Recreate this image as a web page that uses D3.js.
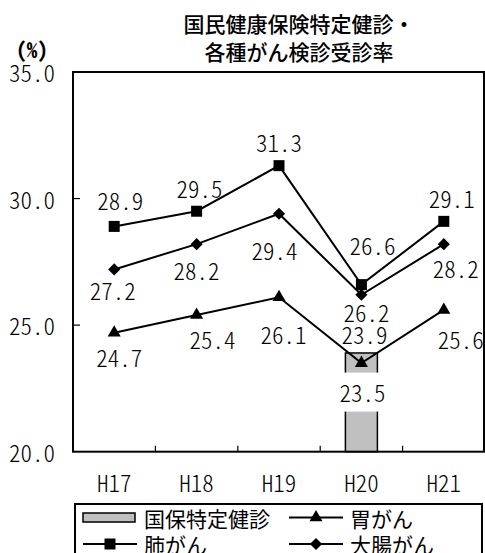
<!DOCTYPE html>
<html><head><meta charset="utf-8">
<script src="https://cdn.jsdelivr.net/npm/d3@7"></script>
<style>
body{margin:0;background:#fff}
.jp{font-family:"Noto Sans CJK JP",sans-serif}
.num{font-family:"Noto Sans CJK JP",sans-serif;font-feature-settings:"hwid" 1;font-weight:300}
</style></head><body><svg id="chart" width="485" height="553"></svg>
<script>
// 年度と受診率 (%)
const categories = ["H17", "H18", "H19", "H20", "H21"];
const kokuhoValues = [null, null, null, 23.9, null];   // 国保特定健診
const haiValues = [28.9, 29.5, 31.3, 26.6, 29.1];      // 肺がん
const daichoValues = [27.2, 28.2, 29.4, 26.2, 28.2];   // 大腸がん
const iValues = [24.7, 25.4, 26.1, 23.5, 25.6];        // 胃がん
const yTicks = [20, 25, 30, 35];
const titleLines = ["国民健康保険特定健診・", "各種がん検診受診率"];

// ラベル位置の調整 (マーカー中心からのずれ)
const haiShift = [[6, -26], [3, -23.5], [0, -24], [11, -40], [8, -23.5]];
const daichoShift = [[-1.5, 21], [0, 25.5], [-4.5, 36.5], [5, 17], [12, 23.5]];
const iShift = [[5, 24], [16, 23.5], [4.5, 37], [1, 29], [17, 29.5]];
const kokuhoShift = [[0, 0], [0, 0], [0, 0], [3, -18.5], [0, 0]];
const iLabelBox = [false, false, false, true, false];

const svg = d3.select("#chart");
const plot = {left: 73, right: 484, top: 72, bottom: 451.7};

const x = d3.scaleBand().domain(categories).range([plot.left, plot.right + 1]);
const y = d3.scaleLinear().domain([20, 35]).range([plot.bottom, plot.top]);
const cx = c => x(c) + x.bandwidth() / 2;

// タイトル
svg.append("g").selectAll("text").data(titleLines).join("text")
  .attr("class", "jp").attr("x", 299).attr("y", (d, i) => 23 + i * 28)
  .attr("text-anchor", "middle").attr("dominant-baseline", "central")
  .attr("font-size", 21).attr("font-weight", 500).attr("fill", "#000").text(d => d);

svg.append("text").attr("class", "num").attr("x", 32).attr("y", 49)
  .attr("text-anchor", "middle").attr("dominant-baseline", "central")
  .attr("font-size", 21).style("font-weight", 700).text("(%)");

// 目盛ラベル (Y)
svg.append("g").selectAll("text").data(yTicks).join("text")
  .attr("class", "num").attr("x", 55).attr("y", d => y(d))
  .attr("text-anchor", "end").attr("dominant-baseline", "central")
  .attr("font-size", 23).text(d => d.toFixed(1));

// 目盛線 (内向き)
svg.append("g").selectAll("line").data(yTicks.slice(1, -1)).join("line")
  .attr("x1", plot.left).attr("x2", plot.left + 7)
  .attr("y1", d => y(d)).attr("y2", d => y(d))
  .attr("stroke", "#000").attr("stroke-width", 1.2);
svg.append("g").selectAll("line").data(categories.slice(1)).join("line")
  .attr("x1", d => x(d)).attr("x2", d => x(d))
  .attr("y1", plot.bottom).attr("y2", plot.bottom - 6)
  .attr("stroke", "#000").attr("stroke-width", 1.2);

// X ラベル
svg.append("g").selectAll("text").data(categories).join("text")
  .attr("class", "num").attr("x", d => cx(d)).attr("y", 482)
  .attr("text-anchor", "middle").attr("dominant-baseline", "central")
  .attr("font-size", 23).text(d => d);

// 棒 (国保特定健診)
const barW = 32;
const barData = categories.map((c, i) => ({c, v: kokuhoValues[i], s: kokuhoShift[i]})).filter(d => d.v != null);
svg.append("g").selectAll("rect").data(barData).join("rect")
  .attr("x", d => cx(d.c) - barW / 2).attr("width", barW)
  .attr("y", d => y(d.v)).attr("height", d => plot.bottom - y(d.v))
  .attr("fill", "#c0c0c0").attr("stroke", "#000").attr("stroke-width", 1.5);

const seriesList = [
  {name: "肺がん", values: haiValues, symbol: "square", shift: haiShift},
  {name: "大腸がん", values: daichoValues, symbol: "diamond", shift: daichoShift},
  {name: "胃がん", values: iValues, symbol: "triangle", shift: iShift, box: iLabelBox}
];

function symbolPath(type) {
  if (type === "square") return d3.symbol(d3.symbolSquare, 121)();
  if (type === "diamond") return d3.symbol(d3.symbolSquare, 74)();
  return d3.symbol(d3.symbolTriangle, 74)();
}
function symbolRotate(type) { return type === "diamond" ? " rotate(45)" : ""; }

const line = d3.line().x(d => cx(d.c)).y(d => y(d.v));

seriesList.forEach(s => {
  const pts = categories.map((c, i) => ({c, v: s.values[i]}));
  svg.append("path").datum(pts).attr("d", line)
    .attr("fill", "none").attr("stroke", "#000").attr("stroke-width", 2);
  svg.append("g").selectAll("path").data(pts).join("path")
    .attr("d", symbolPath(s.symbol))
    .attr("transform", d => `translate(${cx(d.c)},${y(d.v)})` + symbolRotate(s.symbol))
    .attr("fill", "#000");
});

// 数値ラベル
function drawLabel(xp, yp, v, boxed) {
  const g = svg.append("g");
  if (boxed) {
    g.append("rect").attr("x", xp - 26).attr("y", yp - 19.5).attr("width", 52).attr("height", 39)
      .attr("fill", "#fff");
  }
  g.append("text").attr("class", "num").attr("x", xp).attr("y", yp)
    .attr("text-anchor", "middle").attr("dominant-baseline", "central")
    .attr("font-size", 23).attr("fill", "#000").text(v.toFixed(1));
}
barData.forEach(d => drawLabel(cx(d.c) + d.s[0], y(d.v) + d.s[1], d.v, false));
seriesList.forEach(s => {
  categories.forEach((c, i) => {
    drawLabel(cx(c) + s.shift[i][0], y(s.values[i]) + s.shift[i][1], s.values[i], s.box ? s.box[i] : false);
  });
});

// 枠
svg.append("rect").attr("x", plot.left).attr("y", plot.top)
  .attr("width", plot.right - plot.left).attr("height", plot.bottom - plot.top)
  .attr("fill", "none").attr("stroke", "#000").attr("stroke-width", 2);

// 凡例
const legend = svg.append("g");
legend.append("rect").attr("x", 75).attr("y", 504).attr("width", 407).attr("height", 70)
  .attr("fill", "#fff").attr("stroke", "#000").attr("stroke-width", 2);
const legendItems = [
  {name: "国保特定健診", type: "bar", x: 83, y: 517.5},
  {name: "胃がん", type: "triangle", x: 289, y: 517.5},
  {name: "肺がん", type: "square", x: 83, y: 544},
  {name: "大腸がん", type: "diamond", x: 289, y: 544}
];
legendItems.forEach(it => {
  if (it.type === "bar") {
    legend.append("rect").attr("x", it.x).attr("y", it.y - 4.5).attr("width", 52).attr("height", 9)
      .attr("fill", "#c0c0c0").attr("stroke", "#000").attr("stroke-width", 1.5);
  } else {
    legend.append("line").attr("x1", it.x).attr("x2", it.x + 54).attr("y1", it.y).attr("y2", it.y)
      .attr("stroke", "#000").attr("stroke-width", 2);
    legend.append("path").attr("d", symbolPath(it.type))
      .attr("transform", `translate(${it.x + 27},${it.y})` + symbolRotate(it.type)).attr("fill", "#000");
  }
  legend.append("text").attr("class", "jp").attr("x", it.x + 61).attr("y", it.y)
    .attr("dominant-baseline", "central").attr("font-size", 21).text(it.name);
});
</script></body></html>
